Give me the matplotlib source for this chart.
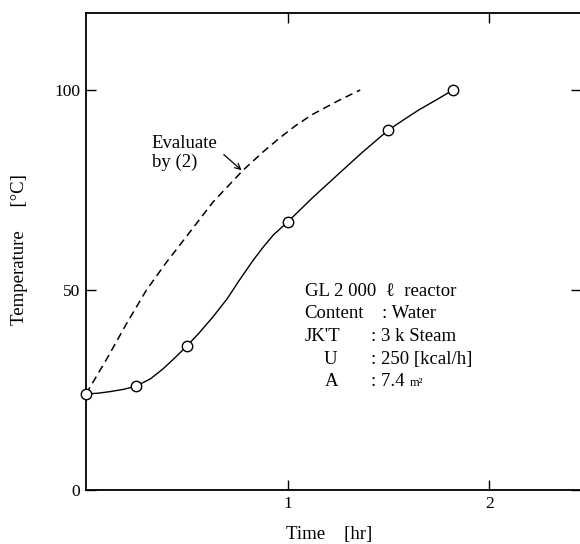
import numpy as np
import matplotlib
matplotlib.use("Agg")
import matplotlib.pyplot as plt

plt.rcParams['font.family'] = ['Liberation Serif', 'DejaVu Serif']

# measured points (circles)
meas_t = [0, 0.25, 0.5, 1.0, 1.5, 1.82]
meas_T = [24, 26, 36, 67, 90, 100]

# solid curve
solid_t = [0, 0.06, 0.12, 0.19, 0.25, 0.32, 0.38, 0.44, 0.5, 0.56, 0.63,
           0.7, 0.76, 0.83, 0.88, 0.93, 1.0, 1.12, 1.25, 1.37, 1.5,
           1.58, 1.65, 1.74, 1.82]
solid_T = [24, 24.2, 24.6, 25.2, 26, 27.8, 30.2, 33.0, 36, 39.2, 43.3,
           47.8, 52.4, 57.5, 60.8, 63.8, 67, 72.9, 78.9, 84.4, 90,
           92.7, 95, 97.6, 100]

# dashed curve "Evaluate by (2)"
calc_t = [0, 0.1, 0.2, 0.3, 0.4, 0.5, 0.63, 0.78, 0.88, 0.96, 1.04, 1.12,
          1.25, 1.36]
calc_T = [24, 32.5, 41.5, 50, 57, 63.5, 72, 80, 84.6, 88.0, 91.1, 93.8,
          97.3, 100]

x_ticks = [1, 2]
y_ticks = [0, 50, 100]

fig = plt.figure(figsize=(5.8, 5.44), dpi=100)
ax = fig.add_axes([86/580, 1 - 490/544, 495/580, 477/544])

ax.plot(calc_t, calc_T, color='black', lw=1.1, ls=(0, (5, 3.2)))
ax.plot(solid_t, solid_T, color='black', lw=1.0)
ax.plot(meas_t, meas_T, ls='none', marker='o', ms=7.5, mfc='white',
        mec='black', mew=1.0, clip_on=False, zorder=5)

ax.set_xlim(0, 2.455)
ax.set_ylim(0, 119.25)
ax.set_xticks(x_ticks)
ax.set_yticks(y_ticks)
ax.tick_params(direction='in', length=7, width=1, labelsize=12.5, pad=4,
               top=True, right=True)
for s in ax.spines.values():
    s.set_linewidth(1.3)

ax.text(0.491, -0.093, 'Time    [hr]', transform=ax.transAxes,
        ha='center', va='center', fontsize=13.5)
fig.text(20/580, 1 - 250/544, 'Temperature     [°C]', rotation=90,
         ha='center', va='center', fontsize=13.5)

# annotation for the dashed curve
ax.text(0.327, 85.5, 'Evaluate', fontsize=13.5, va='baseline')
ax.text(0.327, 80.8, 'by (2)', fontsize=13.5, va='baseline')
ax.annotate('', xy=(0.782, 79.5), xytext=(0.673, 84.3),
            arrowprops=dict(arrowstyle='->', color='black', lw=0.9))

# condition block
fs = 13.5
ax.text(1.084, 48.6, 'GL 2 000  ℓ  reactor', fontsize=fs, va='baseline')
ax.text(1.084, 42.9, 'Content', fontsize=fs, va='baseline')
ax.text(1.470, 42.9, ': Water', fontsize=fs, va='baseline')
ax.text(1.084, 37.2, "JK'T", fontsize=fs, va='baseline')
ax.text(1.415, 37.2, ': 3 k Steam', fontsize=fs, va='baseline')
ax.text(1.178, 31.6, 'U', fontsize=fs, va='baseline')
ax.text(1.415, 31.6, ': 250 [kcal/h]', fontsize=fs, va='baseline')
ax.text(1.183, 25.9, 'A', fontsize=fs, va='baseline')
ax.text(1.415, 25.9, ': 7.4', fontsize=fs, va='baseline')
ax.text(1.605, 25.9, 'm²', fontsize=9, va='baseline')

fig.savefig('out.png', dpi=100)
